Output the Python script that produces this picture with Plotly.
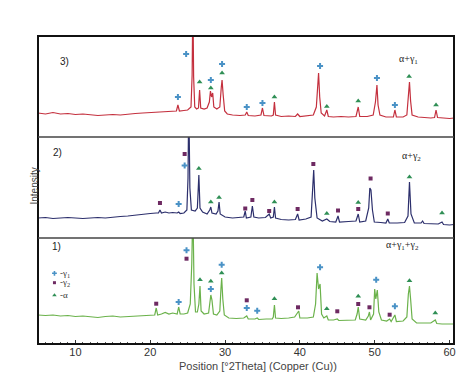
import plotly.graph_objects as go

# ---------------- data ----------------
# Pattern 3 (top, red): alpha + gamma1
p3_x = [5.0, 6, 7, 8, 9, 10, 11, 12, 13, 14, 15, 16, 17, 18, 19, 20, 21, 22, 23, 23.5, 23.7, 23.9, 24.5, 25.0,
        25.45, 25.6, 25.7, 25.8, 25.95, 26.2, 26.45, 26.6, 26.75, 27.2, 27.6, 27.9, 28.05, 28.2, 28.35, 28.5, 28.9,
        29.3, 29.5, 29.6, 29.75, 29.95, 30.3, 31, 32, 32.7, 32.9, 33.1, 34, 34.8, 35.0, 35.2, 36.2, 36.45, 36.6,
        36.75, 37.5, 38.5, 39.4, 39.7, 40, 41, 41.8, 42.2, 42.35, 42.5, 42.65, 42.85, 43.3, 43.6, 43.8, 44.5, 45.5,
        46.5, 47.5, 47.8, 48.0, 49, 49.8, 50.1, 50.3, 50.45, 50.7, 51.5, 52.5, 52.7, 52.9, 53.8, 54.3, 54.5, 54.65,
        54.8, 55.0, 55.8, 56.5, 57.5, 58.0, 58.2, 58.4, 59, 60, 60.6]
p3_y = [24, 23, 24.5, 23, 23.5, 22.5, 23, 22, 21.5, 22, 22.5, 22, 23, 23.5, 24, 24.5, 25, 25.5, 25.5, 26, 32, 26, 26.5, 27,
        30, 62, 140, 60, 30, 28, 29, 47, 29, 28, 29, 35, 46, 40, 44, 30, 28,
        30, 50, 57, 42, 26, 23, 22, 21.5, 22, 25, 21.5, 21, 22, 29, 21.5, 21, 22, 35,
        22, 20.5, 21, 20.5, 23, 20.5, 21, 22, 30, 54, 64, 40, 24, 21, 27, 20.5, 20, 20.5,
        20, 20.5, 30, 20.5, 20.5, 22, 35, 52, 32, 22, 20, 20, 27, 20, 20, 22, 40, 55,
        36, 22, 20, 19.5, 19, 19.5, 27, 19.5, 19, 18.5, 19]

# Pattern 2 (middle, navy): alpha + gamma2
p2_x = [5, 6, 7, 8, 9, 10, 11, 12, 13, 14, 15, 16, 17, 18, 19, 20, 20.8, 21.1, 21.3, 21.5, 22, 22.5, 23, 23.6, 23.8,
        24.0, 24.5, 24.9, 25.05, 25.15, 25.3, 25.5, 26.0, 26.3, 26.5, 26.65, 27, 27.6, 27.95, 28.1, 28.25, 28.8,
        29.05, 29.2, 29.35, 30, 31, 32, 32.5, 32.7, 32.85, 33.45, 33.65, 33.85, 34.5, 35.4, 35.9, 36.1, 36.45, 36.6,
        36.75, 37.5, 38.5, 39.4, 39.7, 39.9, 40.8, 41.5, 41.7, 41.85, 42.0, 42.3, 43, 43.6, 44, 44.8, 45.1, 45.3,
        46.5, 47.5, 47.8, 48.0, 48.8, 49.2, 49.35, 49.5, 49.7, 49.95, 50.8, 51.5, 51.75, 51.95, 53, 54, 54.45, 54.65,
        54.85, 55.3, 56.2, 56.4, 56.6, 57.5, 58.5, 59.0, 59.2, 60, 60.6]
p2_y = [20, 20.5, 19.5, 20, 20.5, 20, 19.5, 20, 20.5, 20, 21, 21.5, 22, 23, 23.5, 24.5, 25, 25, 28, 25, 26, 25, 25.5, 25, 26,
        24.5, 25, 28, 60, 140, 50, 28, 27, 30, 63, 30, 26, 24, 28, 31, 25, 24,
        27, 36, 24, 21, 20, 20.5, 21, 27, 20, 21, 32, 21, 20, 20.5, 24, 20, 21, 31,
        20, 18.5, 18, 18.5, 24, 18, 19, 21, 45, 68, 40, 20, 17, 19, 16.5, 16, 22, 16,
        16.5, 17, 24, 16, 17, 30, 50, 48, 28, 16, 15.5, 15, 19, 15, 15, 15.5, 22, 56,
        24, 15, 15, 17, 14.5, 14, 14, 16, 13.5, 13, 13.5]

# Pattern 1 (bottom, green): alpha + gamma1 + gamma2
p1_x = [5, 6, 7, 8, 9, 10, 11, 12, 13, 14, 15, 16, 17, 18, 19, 20, 20.6, 20.8, 21.0, 21.5, 22, 22.5, 23, 23.6, 23.8,
        24.0, 24.5, 25.0, 25.35, 25.55, 25.7, 25.85, 26.05, 26.3, 26.5, 26.65, 26.8, 27.2, 27.8, 27.95, 28.1, 28.25,
        28.45, 28.9, 29.3, 29.45, 29.55, 29.7, 29.9, 30.5, 31.5, 32.5, 32.9, 33.1, 34.0, 34.3, 34.5, 35.5, 36.3,
        36.45, 36.6, 36.75, 37.5, 38.5, 39.3, 39.85, 40.0, 41, 41.8, 42.1, 42.3, 42.5, 42.7, 42.9, 43.2, 43.6, 43.8,
        44.5, 45.0, 45.2, 46.5, 47.4, 47.65, 47.8, 48.0, 48.8, 49.15, 49.3, 49.45, 49.85, 50.0, 50.15, 50.35, 50.55,
        50.9, 51.6, 52.0, 52.2, 52.7, 52.9, 53.8, 54.3, 54.5, 54.65, 54.8, 55.0, 55.6, 56.5, 57.5, 58.1, 58.3, 59,
        60, 60.6]
p1_y = [29, 28.5, 29, 28, 28.5, 27.5, 28, 27, 26.5, 27.5, 28, 27, 27.5, 28, 28.5, 29, 29, 36, 29, 30, 31.5, 30, 31, 30, 37,
        30, 30, 31, 40, 80, 140, 60, 32, 32, 40, 58, 33, 30, 31, 40, 49, 44,
        30, 29, 33, 55, 66, 45, 29, 26, 25.5, 26, 28, 25, 25, 26, 24.5, 25, 25,
        27, 39, 26, 25.5, 26, 27, 33, 26, 26, 27, 40, 71, 55, 60, 30, 26, 28, 24,
        24, 25, 23.5, 24, 24, 30, 37, 25, 24, 28, 32, 24, 30, 55, 45, 54, 32,
        24, 23, 25, 22.5, 29, 22.5, 23, 27, 50, 58, 45, 25, 21, 21, 21, 24, 20.5, 20,
        20, 20]

# phase markers: (position, height) per panel
p3_g1_x = [23.7, 24.8, 28.1, 29.6, 32.9, 35.0, 42.7, 50.3, 52.7]
p3_g1_y = [40, 83, 57, 73, 30, 34, 71, 59, 32]
p3_a_x = [26.6, 28.1, 29.6, 36.6, 43.6, 47.8, 54.6, 58.2]
p3_a_y = [55, 49, 64, 40, 30.5, 36, 60.5, 32]

p2_g1_x = [23.8, 24.6]
p2_g1_y = [34, 72.5]
p2_g2_x = [21.3, 24.6, 32.7, 33.65, 35.9, 39.7, 41.8, 45.1, 47.8, 49.45, 51.75]
p2_g2_y = [35, 84, 29.5, 38, 27, 29, 74, 27.5, 29, 59.5, 24.5]
p2_a_x = [26.5, 28.1, 29.2, 36.6, 43.6, 47.8, 54.65, 59.0]
p2_a_y = [69.5, 36, 40.5, 36, 24.5, 35.5, 61, 25]

p1_g1_x = [23.8, 24.85, 28.1, 29.55, 32.9, 34.3, 42.7, 50.2, 52.7]
p1_g1_y = [42, 93.7, 55, 79.3, 36, 33.3, 76.7, 64.3, 37.7]
p1_g2_x = [20.8, 24.85, 32.9, 39.75, 45.0, 47.8, 49.3, 52.0]
p1_g2_y = [40.3, 85.3, 43.7, 36.7, 32.7, 40, 36.7, 29.3]
p1_a_x = [26.65, 28.1, 29.55, 36.6, 43.6, 47.8, 54.65, 58.1]
p1_a_y = [64.3, 62.7, 71, 45.3, 35.3, 47.7, 63.3, 31]

legend_labels = ["-γ<sub>1</sub>", "-γ<sub>2</sub>", "-α"]
legend_y = [70.7, 61.3, 48.7]
panel_labels = ["3)", "2)", "1)"]
phase_labels = ["α+γ<sub>1</sub>", "α+γ<sub>2</sub>", "α+γ<sub>1</sub>+γ<sub>2</sub>"]
x_ticks = [10, 20, 30, 40, 50, 60]

# ---------------- styles ----------------
C_RED = "#c4303e"
C_NAVY = "#2c2f6c"
C_GREEN = "#6bb24b"
C_G1 = "#4a92c6"
C_G2 = "#6e2a62"
C_A = "#2f8f55"

W, H = 474, 384
ML, MR, MT, MB = 30, 28, 28, 48
PW, PH = W - ML - MR, H - MT - MB
d1 = 106 / PH
d2 = 207 / PH

fig = go.Figure()

def line(x, y, c, ax):
    fig.add_trace(go.Scatter(x=x, y=y, mode="lines", line=dict(color=c, width=1.2),
                             xaxis=ax[0], yaxis=ax[1], showlegend=False, hoverinfo="skip"))

def marks(x, y, sym, c, size, ax):
    fig.add_trace(go.Scatter(x=x, y=y, mode="markers",
                             marker=dict(symbol=sym, color=c, size=size, line=dict(width=0)),
                             xaxis=ax[0], yaxis=ax[1], showlegend=False, hoverinfo="skip"))

A1, A2, A3 = ("x", "y"), ("x2", "y2"), ("x3", "y3")
line(p1_x, p1_y, C_GREEN, A1)
line(p2_x, p2_y, C_NAVY, A2)
line(p3_x, p3_y, C_RED, A3)

marks(p3_g1_x, p3_g1_y, "cross", C_G1, 5, A3)
marks(p3_a_x, p3_a_y, "triangle-up", C_A, 5, A3)
marks(p2_g1_x, p2_g1_y, "cross", C_G1, 5, A2)
marks(p2_g2_x, p2_g2_y, "square", C_G2, 4, A2)
marks(p2_a_x, p2_a_y, "triangle-up", C_A, 5, A2)
marks(p1_g1_x, p1_g1_y, "cross", C_G1, 5, A1)
marks(p1_g2_x, p1_g2_y, "square", C_G2, 4, A1)
marks(p1_a_x, p1_a_y, "triangle-up", C_A, 5, A1)

# legend markers in bottom panel
marks([7.2], [legend_y[0]], "cross", C_G1, 4, A1)
marks([7.2], [legend_y[1]], "square", C_G2, 3, A1)
marks([7.2], [legend_y[2]], "triangle-up", C_A, 4, A1)

xr = [5, 60.6]
fig.update_layout(
    width=W, height=H, margin=dict(l=ML, r=MR, t=MT, b=MB),
    paper_bgcolor="white", plot_bgcolor="white",
    font=dict(family="Arial, Liberation Sans, sans-serif", color="#333"),
    xaxis=dict(domain=[0, 1], range=xr, anchor="y", tickvals=x_ticks, ticks="inside", ticklen=4,
               tickcolor="#333", tickfont=dict(size=11, color="#333"), showgrid=False, zeroline=False,
               showline=False, minor=dict(dtick=1, ticks="inside", ticklen=2, tickcolor="#555")),
    xaxis2=dict(domain=[0, 1], range=xr, anchor="y2", visible=False, matches="x"),
    xaxis3=dict(domain=[0, 1], range=xr, anchor="y3", visible=False, matches="x"),
    yaxis=dict(domain=[0, d1], range=[0, 106], visible=False),
    yaxis2=dict(domain=[d1, d2], range=[0, 101], visible=False),
    yaxis3=dict(domain=[d2, 1], range=[0, 101], visible=False),
)

def px(xp):
    return (xp - ML) / PW

def py(yp):
    return (H - MB - yp) / PH

shapes = [
    dict(type="rect", xref="paper", yref="paper", x0=0, x1=1, y0=0, y1=1, line=dict(color="#111", width=2)),
    dict(type="line", xref="paper", yref="paper", x0=0, x1=1, y0=d1, y1=d1, line=dict(color="#444", width=1.5)),
    dict(type="line", xref="paper", yref="paper", x0=0, x1=1, y0=d2, y1=d2, line=dict(color="#444", width=1.5)),
]
fig.update_layout(shapes=shapes)

ann = []
for lab, (xp, yp) in zip(panel_labels, [(50, 46), (43, 144), (42, 246)]):
    ann.append(dict(text=lab, x=px(xp), y=py(yp), xref="paper", yref="paper", showarrow=False,
                    font=dict(size=10, color="#222")))
for lab, (xp, yp) in zip(phase_labels, [(412, 43), (415, 148), (413, 246)]):
    ann.append(dict(text=lab, x=px(xp), y=py(yp), xref="paper", yref="paper", showarrow=False,
                    font=dict(size=10, color="#222", family="Liberation Serif, serif")))
for lab, yv in zip(legend_labels, legend_y):
    ann.append(dict(text=lab, x=7.7, y=yv, xref="x", yref="y", xanchor="left", showarrow=False,
                    font=dict(size=9, color="#333", family="Liberation Serif, serif")))
ann.append(dict(text="Intensity", x=px(18), y=py(178), xref="paper", yref="paper", textangle=-90,
                showarrow=False, font=dict(size=10, color="#444")))
ann.append(dict(text="Position [°2Theta] (Copper (Cu))", x=px(250), y=py(366), xref="paper", yref="paper",
                showarrow=False, font=dict(size=11, color="#444")))
fig.update_layout(annotations=ann)

fig.write_html("out.html")
